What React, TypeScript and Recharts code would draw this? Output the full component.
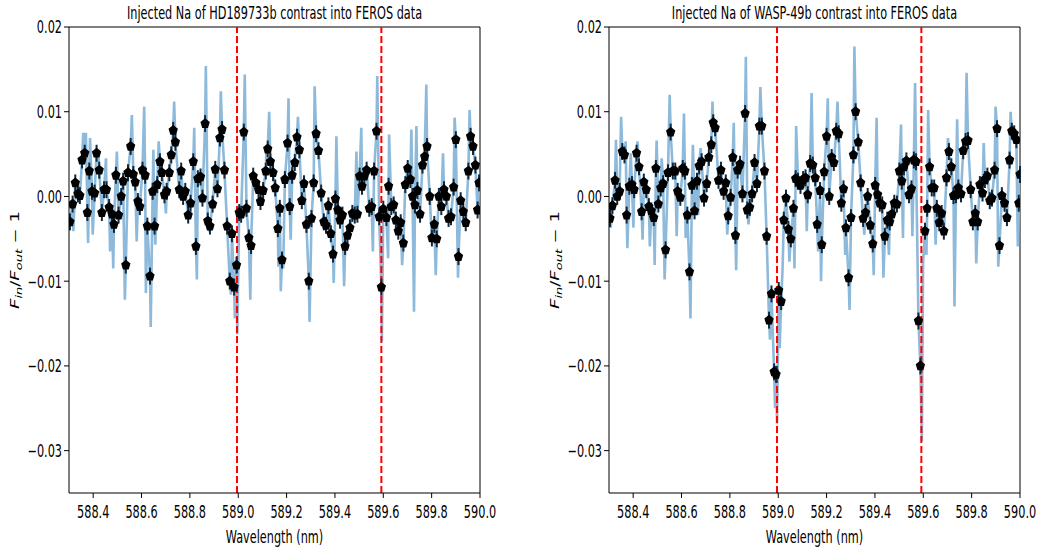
import React from "react";
import {
  ComposedChart,
  Line,
  Scatter,
  ErrorBar,
  XAxis,
  YAxis,
  ReferenceLine,
} from "recharts";

// binned points (pentagons) + extra spikes of the fine spectrum (blue line)
const hdWave = [
  588.304, 588.315, 588.326, 588.337, 588.345, 588.354, 588.365, 588.376, 588.384, 588.395,
  588.406, 588.414, 588.425, 588.436, 588.445, 588.455, 588.466, 588.478, 588.486, 588.494,
  588.505, 588.516, 588.524, 588.535, 588.544, 588.555, 588.566, 588.574, 588.585, 588.593,
  588.604, 588.615, 588.624, 588.635, 588.646, 588.654, 588.665, 588.676, 588.684, 588.695,
  588.704, 588.715, 588.723, 588.731, 588.74, 588.756, 588.764, 588.772, 588.781, 588.793,
  588.803, 588.814, 588.825, 588.833, 588.844, 588.852, 588.863, 588.874, 588.883, 588.894,
  588.905, 588.914, 588.924, 588.933, 588.943, 588.954, 588.965, 588.974, 588.983, 588.993,
  589.004, 589.012, 589.023, 589.034, 589.044, 589.053, 589.062, 589.073, 589.084, 589.092,
  589.103, 589.114, 589.122, 589.133, 589.144, 589.153, 589.164, 589.172, 589.181, 589.193,
  589.204, 589.213, 589.223, 589.234, 589.243, 589.253, 589.263, 589.272, 589.282, 589.292,
  589.303, 589.312, 589.322, 589.332, 589.343, 589.354, 589.363, 589.373, 589.383, 589.392,
  589.402, 589.412, 589.421, 589.431, 589.442, 589.452, 589.462, 589.472, 589.482, 589.493,
  589.502, 589.512, 589.522, 589.531, 589.542, 589.552, 589.562, 589.572, 589.583, 589.592,
  589.6, 589.613, 589.622, 589.633, 589.643, 589.652, 589.662, 589.672, 589.683, 589.691,
  589.701, 589.712, 589.721, 589.731, 589.741, 589.752, 589.762, 589.771, 589.781, 589.792,
  589.801, 589.811, 589.821, 589.83, 589.84, 589.851, 589.861, 589.87, 589.88, 589.891,
  589.9, 589.911, 589.92, 589.931, 589.941, 589.952, 589.961, 589.971, 589.981, 589.99, 589.996,
];
const hdFlux = [
  -0.003, -0.0009, 0.0016, 0.0003, 0.0001, 0.0043, 0.0051, -0.0019, 0.003, 0.0006,
  0.0004, 0.0051, 0.0031, -0.0019, 0.0008, 0.0008, -0.0013, -0.0021, -0.0033, 0.0025,
  -0.0022, 0.0, 0.0018, -0.0081, 0.0028, 0.0059, 0.0026, 0.0017, -0.0006, -0.0012,
  0.0031, 0.0025, -0.0035, -0.0094, 0.0006, -0.0035, 0.0014, 0.0041, 0.0028, 0.0002,
  0.0006, 0.0028, 0.0049, 0.0078, 0.0064, 0.0008, 0.003, 0.0, 0.0006, -0.0022,
  -0.0008, 0.0041, -0.0059, 0.0021, 0.0023, -0.0002, 0.0086, -0.0029, -0.0035, -0.0009,
  0.0032, 0.0009, 0.0069, 0.0079, 0.0031, -0.0035, -0.01, -0.0044, -0.0107, -0.0081,
  -0.0019, -0.0021, 0.0076, -0.0014, -0.0049, -0.0058, 0.0024, 0.0016, 0.0008, -0.0006,
  0.0007, 0.003, 0.0056, 0.0041, 0.0028, 0.001, -0.0038, -0.0014, -0.0075, 0.002,
  0.0063, -0.0012, 0.0025, 0.004, 0.007, 0.0055, -0.0005, 0.0015, -0.0033, -0.01,
  -0.0026, 0.0016, 0.0074, 0.0054, 0.0004, -0.003, -0.0034, -0.0011, -0.0044, -0.0068,
  -0.0003, -0.0016, -0.0028, -0.0022, -0.0059, -0.0046, -0.0037, -0.002, -0.0022, -0.0021,
  0.0024, 0.0012, 0.0024, 0.0031, -0.0014, -0.0012, 0.003, 0.0077, -0.0024, -0.0107,
  -0.0015, -0.0025, 0.0012, -0.0012, -0.001, -0.0028, -0.0041, -0.0031, -0.0055, 0.0014,
  0.0033, 0.002, 0.0, -0.001, 0.0007, -0.0021, 0.0037, 0.0047, 0.0059, 0.0,
  -0.0049, -0.0033, -0.005, 0.0, -0.0012, 0.0008, 0.0, -0.0026, -0.0024, 0.0011,
  0.0067, -0.0071, -0.0005, -0.0018, -0.0031, 0.003, 0.0071, 0.0059, 0.0037, -0.0016, 0.0016,
];
const hdSpikeWave = [
  588.318, 588.359, 588.37, 588.379, 588.387, 588.398, 588.421, 588.453, 588.47, 588.483,
  588.498, 588.531, 588.56, 588.58, 588.611, 588.618, 588.638, 588.649, 588.657, 588.671,
  588.701, 588.735, 588.818, 588.829, 588.866, 588.88, 588.928, 588.97, 588.986, 588.996,
  589.027, 589.05, 589.117, 589.128, 589.166, 589.176, 589.186, 589.208, 589.217, 589.247,
  589.295, 589.316, 589.395, 589.406, 589.438, 589.489, 589.509, 589.557, 589.575, 589.594,
  589.62, 589.624, 589.678, 589.716, 589.727, 589.737, 589.778, 589.817, 589.847, 589.895,
  589.909, 589.957,
];
const hdSpikeFlux = [
  -0.0041, 0.0075, 0.0075, -0.0055, 0.0069, -0.0045, 0.0053, 0.0045, -0.0065, -0.0085,
  0.0053, -0.0122, 0.0096, -0.0053, 0.0106, -0.0114, -0.0154, 0.0055, -0.0057, 0.0065,
  -0.002, 0.0112, 0.0081, -0.0098, 0.0154, -0.0041, 0.0124, -0.0116, -0.0144, -0.0163,
  0.0144, -0.0122, 0.0061, 0.01, -0.0083, -0.0112, -0.0085, 0.0116, -0.0051, 0.0094,
  -0.0148, 0.013, -0.0102, 0.0071, -0.0106, 0.0053, 0.0081, -0.0065, 0.0142, -0.0171,
  -0.0073, 0.0073, -0.0081, 0.0079, -0.0136, 0.0083, 0.0132, -0.0093, 0.0051, 0.0093,
  -0.0096, 0.0102,
];

const waspWave = [
  588.304, 588.314, 588.325, 588.334, 588.344, 588.355, 588.364, 588.373, 588.384, 588.395,
  588.404, 588.414, 588.424, 588.435, 588.444, 588.454, 588.465, 588.475, 588.485, 588.494,
  588.504, 588.514, 588.524, 588.534, 588.544, 588.555, 588.564, 588.574, 588.584, 588.595,
  588.605, 588.614, 588.624, 588.633, 588.643, 588.654, 588.664, 588.673, 588.683, 588.693,
  588.704, 588.713, 588.723, 588.731, 588.739, 588.753, 588.763, 588.774, 588.783, 588.793,
  588.803, 588.812, 588.823, 588.832, 588.842, 588.852, 588.863, 588.872, 588.882, 588.892,
  588.902, 588.912, 588.922, 588.932, 588.943, 588.952, 588.962, 588.972, 588.983, 588.991,
  589.002, 589.012, 589.023, 589.032, 589.042, 589.052, 589.063, 589.072, 589.082, 589.092,
  589.103, 589.113, 589.122, 589.132, 589.143, 589.153, 589.161, 589.173, 589.18, 589.19,
  589.2, 589.211, 589.221, 589.23, 589.24, 589.25, 589.261, 589.27, 589.28, 589.291,
  589.301, 589.311, 589.32, 589.331, 589.341, 589.351, 589.361, 589.37, 589.381, 589.391,
  589.401, 589.411, 589.42, 589.43, 589.441, 589.451, 589.461, 589.47, 589.48, 589.491,
  589.501, 589.511, 589.52, 589.53, 589.541, 589.551, 589.561, 589.57, 589.58, 589.588,
  589.607, 589.616, 589.626, 589.635, 589.645, 589.656, 589.666, 589.676, 589.685, 589.696,
  589.706, 589.716, 589.725, 589.735, 589.745, 589.756, 589.765, 589.775, 589.785, 589.796,
  589.805, 589.815, 589.825, 589.834, 589.845, 589.855, 589.865, 589.875, 589.884, 589.895,
  589.905, 589.915, 589.925, 589.936, 589.946, 589.957, 589.966, 589.976, 589.985, 589.995, 590.0,
];
const waspFlux = [
  -0.0026, -0.0011, 0.0019, 0.0, 0.0006, 0.0053, 0.0049, -0.0022, 0.0012, 0.0014,
  0.0008, 0.0051, 0.0035, -0.0018, 0.0017, 0.0008, -0.0012, -0.0017, -0.0025, 0.0033,
  -0.0009, 0.001, 0.0015, -0.0063, 0.0028, 0.0076, 0.003, 0.003, 0.0006, -0.0001,
  0.0033, 0.003, -0.0022, -0.0089, 0.0013, -0.0017, 0.0018, 0.0036, 0.0041, -0.0002,
  0.0015, 0.0046, 0.0061, 0.0087, 0.0081, 0.0019, 0.0031, 0.0006, 0.0016, -0.0023,
  -0.0001, 0.0046, -0.0046, 0.0031, 0.0038, 0.0003, 0.0098, -0.0016, -0.0013, 0.0003,
  0.004, 0.0015, 0.0083, 0.0083, 0.003, -0.0047, -0.0146, -0.0115, -0.0207, -0.021,
  -0.0111, -0.0124, -0.0028, -0.0002, -0.0039, -0.005, -0.0014, 0.0021, 0.0018, 0.0013,
  0.002, 0.0022, 0.0002, 0.0039, 0.0037, 0.0022, -0.0033, 0.0007, -0.0057, 0.0029,
  0.0071, 0.0, 0.0046, 0.004, 0.0077, 0.0074, -0.0008, 0.0009, -0.0037, -0.0096,
  -0.0025, 0.0049, 0.01, 0.0064, 0.0016, -0.0026, -0.0019, 0.0, -0.0034, -0.0056,
  0.0013, 0.0002, -0.0008, -0.001, -0.0047, -0.0028, -0.003, -0.0021, -0.0008, -0.0009,
  0.003, 0.0018, 0.0035, 0.0042, 0.0002, 0.0009, 0.0043, 0.0041, -0.0147, -0.02,
  -0.0041, -0.0014, 0.0035, 0.001, 0.001, -0.0014, -0.0031, -0.002, -0.0041, 0.0022,
  0.0053, 0.0035, 0.0001, 0.0002, 0.001, 0.0003, 0.0054, 0.0065, 0.0066, 0.0008,
  -0.003, -0.002, -0.003, 0.0014, 0.0004, 0.002, 0.0024, -0.0005, -0.0002, 0.0031,
  0.008, -0.0058, 0.0001, -0.0008, -0.0025, 0.0043, 0.0077, 0.0074, 0.0067, -0.0008, 0.0026,
];
const waspSpikeWave = [
  588.307, 588.329, 588.35, 588.369, 588.376, 588.39, 588.401, 588.418, 588.439, 588.469,
  588.489, 588.497, 588.518, 588.53, 588.551, 588.58, 588.61, 588.617, 588.637, 588.647,
  588.669, 588.679, 588.728, 588.789, 588.816, 588.826, 588.866, 588.877, 588.926, 588.966,
  588.987, 588.995, 589.006, 589.018, 589.046, 589.067, 589.074, 589.118, 589.138, 589.165,
  589.177, 589.205, 589.245, 589.277, 589.295, 589.315, 589.356, 589.395, 589.407, 589.435,
  589.458, 589.508, 589.516, 589.555, 589.566, 589.594, 589.599, 589.613, 589.62, 589.651,
  589.702, 589.729, 589.74, 589.779, 589.819, 589.85, 589.899, 589.91, 589.961, 589.991,
];
const waspSpikeFlux = [
  -0.0037, 0.0067, 0.0094, 0.0065, -0.0061, 0.0051, -0.0037, 0.0065, -0.0051, -0.0059,
  -0.0081, 0.0066, 0.0045, -0.0098, 0.012, -0.0047, 0.0098, -0.0049, -0.0144, 0.0061,
  -0.0022, 0.0057, 0.0112, -0.0045, 0.0087, -0.0087, 0.0165, -0.0033, 0.0129, -0.0169,
  -0.025, -0.0268, -0.0179, -0.0085, -0.0077, -0.0085, 0.0083, -0.0041, 0.0122, -0.0065,
  -0.01, 0.0116, 0.0112, -0.0069, -0.0134, 0.0177, -0.0045, -0.0093, 0.0093, -0.0096,
  -0.0069, 0.0085, -0.0049, -0.0047, 0.0134, -0.0289, -0.0079, -0.0069, 0.0102, -0.0057,
  0.0069, -0.013, 0.0091, 0.0146, -0.0079, 0.0063, 0.0106, -0.0083, 0.01, -0.0059,
];

const fluxErr = 0.001;
const naLines = [588.995, 589.592];
const xTicks = [588.4, 588.6, 588.8, 589.0, 589.2, 589.4, 589.6, 589.8, 590.0];
const yTicks = [-0.03, -0.02, -0.01, 0.0, 0.01, 0.02];

const SX = 0.645; // the figure is squeezed horizontally
const FONT = "DejaVu Sans";

function XTick(props: any) {
  const { x, y, payload } = props;
  return (
    <text
      transform={`translate(${x},${y + 18.3}) scale(${SX},1)`}
      textAnchor="middle"
      fontSize={17.5}
      fontFamily={FONT}
      fill="#000"
    >
      {payload.value.toFixed(1)}
    </text>
  );
}

function YTick(props: any) {
  const { x, y, payload } = props;
  const label = payload.value.toFixed(2).replace("-", "\u2212");
  return (
    <text
      transform={`translate(${x},${y + 6.4}) scale(${SX},1)`}
      textAnchor="end"
      fontSize={17.5}
      fontFamily={FONT}
      fill="#000"
    >
      {label}
    </text>
  );
}

function Pentagon(props: any) {
  const { cx, cy } = props;
  if (cx == null || cy == null) return null;
  const pts = [];
  for (let i = 0; i < 5; i++) {
    const a = -Math.PI / 2 + (i * 2 * Math.PI) / 5;
    pts.push(`${cx + 4.9 * Math.cos(a)},${cy + 5.4 * Math.sin(a)}`);
  }
  return <polygon points={pts.join(" ")} fill="#000" />;
}

function Panel({ wave, flux, spikeWave, spikeFlux, width, right }: any) {
  const points = wave.map((w: number, i: number) => ({ wl: w, v: flux[i], err: fluxErr }));
  const line = [
    ...points.map((p: any) => ({ wl: p.wl, v: p.v })),
    ...spikeWave.map((w: number, i: number) => ({ wl: w, v: spikeFlux[i] })),
  ].sort((a, b) => a.wl - b.wl);

  return (
    <ComposedChart width={width} height={549} margin={{ top: 27, right, bottom: 0, left: 0 }}>
      <XAxis
        dataKey="wl"
        type="number"
        domain={[588.3, 590.0]}
        ticks={xTicks}
        allowDataOverflow
        height={56}
        tickSize={5}
        tickMargin={2}
        tick={<XTick />}
        stroke="#000"
        tickLine={{ stroke: "#000" }}
      />
      <YAxis
        dataKey="v"
        type="number"
        domain={[-0.035, 0.02]}
        ticks={yTicks}
        allowDataOverflow
        width={69}
        tickSize={5}
        tickMargin={2}
        tick={<YTick />}
        stroke="#000"
        tickLine={{ stroke: "#000" }}
      />
      <ReferenceLine y={0.02} stroke="#000" strokeWidth={1} />
      <ReferenceLine x={590.0} stroke="#000" strokeWidth={1} />
      <Line
        data={line}
        dataKey="v"
        type="linear"
        stroke="#8dbadb"
        strokeWidth={2.6}
        dot={false}
        isAnimationActive={false}
      />
      {naLines.map((w) => (
        <ReferenceLine key={w} x={w} stroke="#ff0000" strokeWidth={2} strokeDasharray="7 3" />
      ))}
      <Scatter data={points} dataKey="v" shape={<Pentagon />} isAnimationActive={false}>
        <ErrorBar dataKey="err" direction="y" width={0} stroke="#0f2a40" strokeWidth={2} />
      </Scatter>
    </ComposedChart>
  );
}

function SqText({ x, y, size, rotate, children }: any) {
  return (
    <text
      transform={`translate(${x},${y}) scale(${SX},1)${rotate ? " rotate(-90)" : ""}`}
      textAnchor="middle"
      fontSize={size}
      fontFamily={FONT}
      fill="#000"
    >
      {children}
    </text>
  );
}

function YLabel({ x }: { x: number }) {
  return (
    <SqText x={x} y={260} size={18} rotate>
      <tspan fontStyle="italic">F</tspan>
      <tspan fontStyle="italic" fontSize={13} dy={4}>in</tspan>
      <tspan dy={-4}>/</tspan>
      <tspan fontStyle="italic">F</tspan>
      <tspan fontStyle="italic" fontSize={13} dy={4}>out</tspan>
      <tspan dy={-4}>{" \u2212 1"}</tspan>
    </SqText>
  );
}

export default function App() {
  return (
    <div
      style={{
        position: "absolute",
        left: 0,
        top: 0,
        width: 1043,
        height: 549,
        overflow: "hidden",
        background: "#fff",
      }}
    >
      <div style={{ position: "absolute", left: 0, top: 0 }}>
        <Panel wave={hdWave} flux={hdFlux} spikeWave={hdSpikeWave} spikeFlux={hdSpikeFlux} width={521} right={41} />
      </div>
      <div style={{ position: "absolute", left: 540, top: 0 }}>
        <Panel wave={waspWave} flux={waspFlux} spikeWave={waspSpikeWave} spikeFlux={waspSpikeFlux} width={503} right={23} />
      </div>
      <svg
        width={1043}
        height={549}
        style={{ position: "absolute", left: 0, top: 0, pointerEvents: "none" }}
      >
        <SqText x={274.5} y={19.3} size={17.5}>Injected Na of HD189733b contrast into FEROS data</SqText>
        <SqText x={814.5} y={19.3} size={17.5}>Injected Na of WASP-49b contrast into FEROS data</SqText>
        <SqText x={274.5} y={543} size={17.5}>Wavelength (nm)</SqText>
        <SqText x={814.5} y={543} size={17.5}>Wavelength (nm)</SqText>
        <YLabel x={19} />
        <YLabel x={559} />
      </svg>
    </div>
  );
}
